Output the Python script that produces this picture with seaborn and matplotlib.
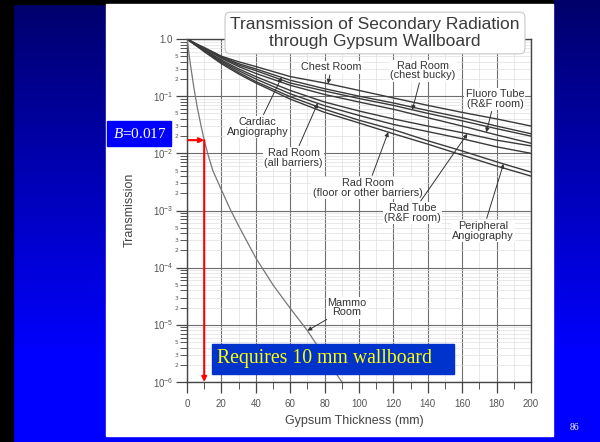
import numpy as np
import pandas as pd
import matplotlib
matplotlib.use("Agg")
import matplotlib.pyplot as plt
import matplotlib.ticker as mticker
from matplotlib.patches import Rectangle
import seaborn as sns

plt.rcParams["mathtext.fontset"] = "custom"
plt.rcParams["mathtext.it"] = "Liberation Serif:italic"
plt.rcParams["mathtext.rm"] = "Liberation Serif"

# ---------------- data ----------------
thickness_mm = [0, 5, 10, 20, 30, 40, 60, 80, 100, 120, 140, 160, 180, 200]
chest_room = [1.0, 0.83, 0.71, 0.50, 0.40, 0.33, 0.22, 0.17, 0.126, 0.093, 0.069, 0.052, 0.040, 0.030]
cardiac_angio = [1.0, 0.83, 0.69, 0.49, 0.37, 0.30, 0.19, 0.135, 0.100, 0.076, 0.056, 0.042, 0.030, 0.022]
rad_chest_bucky = [1.0, 0.83, 0.69, 0.48, 0.35, 0.28, 0.17, 0.123, 0.091, 0.069, 0.050, 0.037, 0.027, 0.020]
fluoro_tube = [1.0, 0.81, 0.68, 0.46, 0.33, 0.25, 0.155, 0.107, 0.079, 0.059, 0.042, 0.030, 0.021, 0.015]
rad_tube = [1.0, 0.79, 0.65, 0.43, 0.30, 0.22, 0.126, 0.079, 0.055, 0.040, 0.030, 0.023, 0.017, 0.0135]
rad_all_barriers = [1.0, 0.79, 0.63, 0.41, 0.28, 0.20, 0.110, 0.068, 0.046, 0.032, 0.024, 0.018, 0.013, 0.010]
peripheral_angio = [1.0, 0.78, 0.62, 0.39, 0.26, 0.18, 0.098, 0.059, 0.038, 0.026, 0.0166, 0.011, 0.0071, 0.0047]
rad_floor = [1.0, 0.78, 0.60, 0.37, 0.245, 0.17, 0.089, 0.052, 0.034, 0.022, 0.0145, 0.0093, 0.0060, 0.0040]

mammo_thickness_mm = [0, 2, 4, 6, 8, 10, 12, 15, 20, 25, 30, 40, 50, 60, 70, 80, 90]
mammo_room = [1.0, 0.355, 0.141, 0.063, 0.032, 0.017, 0.010, 0.0050, 0.0023, 0.00107,
              0.00054, 0.000148, 5.0e-5, 1.95e-5, 7.9e-6, 2.8e-6, 1.0e-6]

curve_names = ["Chest Room", "Rad Room\n(chest bucky)", "Fluoro Tube\n(R&F room)",
               "Cardiac\nAngiography", "Rad Room\n(all barriers)",
               "Rad Room\n(floor or other barriers)", "Rad Tube\n(R&F room)",
               "Peripheral\nAngiography"]
curve_values = [chest_room, rad_chest_bucky, fluoro_tube, cardiac_angio,
                rad_all_barriers, rad_floor, rad_tube, peripheral_angio]
# arrow tip thickness (mm) for each label, and label centre (mm, transmission)
tip_mm = [82, 131, 174, 55, 76, 117, 163, 184]
label_mm = [84, 137, 179, 41, 62, 105, 131, 172]
label_T = [0.32, 0.28, 0.089, 0.029, 0.0083, 0.0025, 0.0009, 0.00044]
mammo_label = "Mammo\nRoom"
mammo_tip_mm = 70
mammo_label_pos = (93, 2.0e-5)

b_value = 0.017
required_mm = 10

x_ticks = [0, 20, 40, 60, 80, 100, 120, 140, 160, 180, 200]
title = "Transmission of Secondary Radiation\nthrough Gypsum Wallboard"
x_label = "Gypsum Thickness (mm)"
y_label = "Transmission"
b_text = "$B$=0.017"
req_text = "Requires 10 mm wallboard"
page_no = "86"

# ---------------- figure ----------------
W, H = 600, 442
fig = plt.figure(figsize=(W / 100, H / 100), dpi=100)

# slide background
bg = fig.add_axes([0, 0, 1, 1], zorder=0)
bg.set_axis_off()
grad = np.linspace(0, 1, 256).reshape(-1, 1)
cols = np.zeros((256, 1, 3))
cols[:, 0, 2] = 0.42 + 0.58 * np.clip(grad[:, 0] * 1.25, 0, 1)
bg.imshow(cols[::-1], extent=[0, 1, 0, 1], aspect="auto", origin="lower")
bg.set_xlim(0, 1)
bg.set_ylim(0, 1)
bg.add_patch(Rectangle((0, 0), 13 / W, 1, color="black", zorder=2))
bg.add_patch(Rectangle((0, 1 - 4 / H), 553 / W, 4 / H, color="black", zorder=2))
bg.add_patch(Rectangle((106 / W, 1 - 436 / H), 447 / W, 432 / H, color="white", zorder=2))

# main chart
x0, x1, y0, y1 = 187, 531, 39, 382
ax = fig.add_axes([x0 / W, 1 - y1 / H, (x1 - x0) / W, (y1 - y0) / H], zorder=2)
ax.set_facecolor("white")

rows = []
for name, vals in zip(curve_names, curve_values):
    for t, v in zip(thickness_mm, vals):
        rows.append({"curve": name, "mm": t, "T": v})
df = pd.DataFrame(rows)
df_m = pd.DataFrame({"mm": mammo_thickness_mm, "T": mammo_room})

sns.lineplot(data=df, x="mm", y="T", units="curve", estimator=None, color="#3a3a3a",
             lw=1.0, ax=ax, zorder=3)
sns.lineplot(data=df_m, x="mm", y="T", color="#777777", lw=0.9, ax=ax, zorder=3)

ax.set_yscale("log")
ax.set_xlim(0, 200)
ax.set_ylim(1e-6, 1.0)
ax.set_xticks(x_ticks)
ax.xaxis.set_minor_locator(mticker.MultipleLocator(10))
ax.yaxis.set_major_locator(mticker.LogLocator(base=10, numticks=10))
ax.yaxis.set_minor_locator(mticker.LogLocator(base=10, subs=np.arange(2, 10), numticks=20))


def major_fmt(v, pos):
    if abs(v - 1.0) < 1e-9:
        return "1.0"
    e = int(round(np.log10(v)))
    return r"10$^{\mathregular{%d}}$" % e


def minor_fmt(v, pos):
    if v < 1e-6 or v > 1.0:
        return ""
    e = np.floor(np.log10(v) + 1e-9)
    m = int(round(v / 10 ** e))
    return str(m) if m in (2, 3, 5) else ""


ax.yaxis.set_major_formatter(mticker.FuncFormatter(major_fmt))
ax.yaxis.set_minor_formatter(mticker.FuncFormatter(minor_fmt))

ax.tick_params(axis="both", which="major", direction="out", length=8, width=0.9,
               color="#444444", labelsize=7, labelcolor="#555555", pad=2)
ax.tick_params(axis="both", which="minor", direction="out", length=5, width=0.7,
               color="#555555")
ax.tick_params(axis="y", which="minor", labelsize=4.2, pad=1, labelcolor="#555555")
ax.tick_params(axis="x", which="major", pad=4)
for lab in ax.get_xticklabels() + ax.get_yticklabels():
    lab.set_family("Liberation Sans")

for s in ax.spines.values():
    s.set_color("#444444")
    s.set_linewidth(1.0)

ax.set_axisbelow(True)
ax.grid(which="major", color="#6e6e6e", lw=0.8)
ax.grid(which="minor", color="#e0e0e0", lw=0.5)

ax.set_xlabel(x_label, fontsize=9, color="#444444", family="Liberation Sans", va="center")
ax.set_ylabel(y_label, fontsize=9, color="#444444", family="Liberation Sans", va="center")
ax.xaxis.set_label_coords((354 - x0) / (x1 - x0), (y1 - 421) / (y1 - y0))
ax.yaxis.set_label_coords((130 - x0) / (x1 - x0), (y1 - 210) / (y1 - y0))

# title box
ax.text((375 - x0) / (x1 - x0), (y1 - 33) / (y1 - y0), title, transform=ax.transAxes,
        ha="center", va="center", fontsize=12.5, color="#3a3a3a", family="Liberation Sans",
        linespacing=1.1, zorder=6, clip_on=False,
        bbox=dict(boxstyle="round,pad=0.3", fc="white", ec="#c8c8c8", lw=0.8))

# curve labels
arrow_kw = dict(arrowstyle="-|>", color="#333333", lw=0.7, mutation_scale=6,
                shrinkA=1, shrinkB=0)
box_kw = dict(boxstyle="square,pad=0.12", fc="white", ec="none")
for name, vals, tx, lx, ly in zip(curve_names, curve_values, tip_mm, label_mm, label_T):
    ty = 10 ** np.interp(tx, thickness_mm, np.log10(vals))
    ax.annotate(name, xy=(tx, ty), xytext=(lx, ly), ha="center", va="center",
                fontsize=7.8, color="#333333", family="Liberation Sans",
                linespacing=0.95, bbox=box_kw, arrowprops=arrow_kw, zorder=6)
mty = 10 ** np.interp(mammo_tip_mm, mammo_thickness_mm, np.log10(mammo_room))
ax.annotate(mammo_label, xy=(mammo_tip_mm, mty), xytext=mammo_label_pos, ha="center",
            va="center", fontsize=7.8, color="#333333", family="Liberation Sans",
            linespacing=0.95, bbox=box_kw, arrowprops=arrow_kw, zorder=6)

# red arrows
red_kw = dict(arrowstyle="-|>", color="red", lw=1.5, mutation_scale=7, shrinkA=0, shrinkB=0)
ax.annotate("", xy=(required_mm, b_value), xytext=(0.5, b_value), arrowprops=red_kw, zorder=7)
ax.annotate("", xy=(required_mm, 1.0e-6), xytext=(required_mm, b_value),
            arrowprops=red_kw, zorder=7)

# overlay boxes (figure level)
ov = fig.add_axes([0, 0, 1, 1], zorder=5)
ov.set_axis_off()
ov.set_xlim(0, 1)
ov.set_ylim(0, 1)
ov.add_patch(Rectangle((107 / W, 1 - 146 / H), 64 / W, 25 / H, color="#0000ff"))
ov.text(113 / W, 1 - 134 / H, b_text, color="white", fontsize=11, family="Liberation Serif",
        ha="left", va="center")
ov.add_patch(Rectangle((212 / W, 1 - 374 / H), 242 / W, 30 / H, color="#0033cc"))
ov.text(217 / W, 1 - 359 / H, req_text, color="#ffff00", fontsize=14.2,
        family="Liberation Serif", ha="left", va="center")
ov.text(574 / W, 1 - 427 / H, page_no, color="white", fontsize=7, family="Liberation Serif",
        ha="center", va="center")

fig.savefig("out.png", dpi=100)
